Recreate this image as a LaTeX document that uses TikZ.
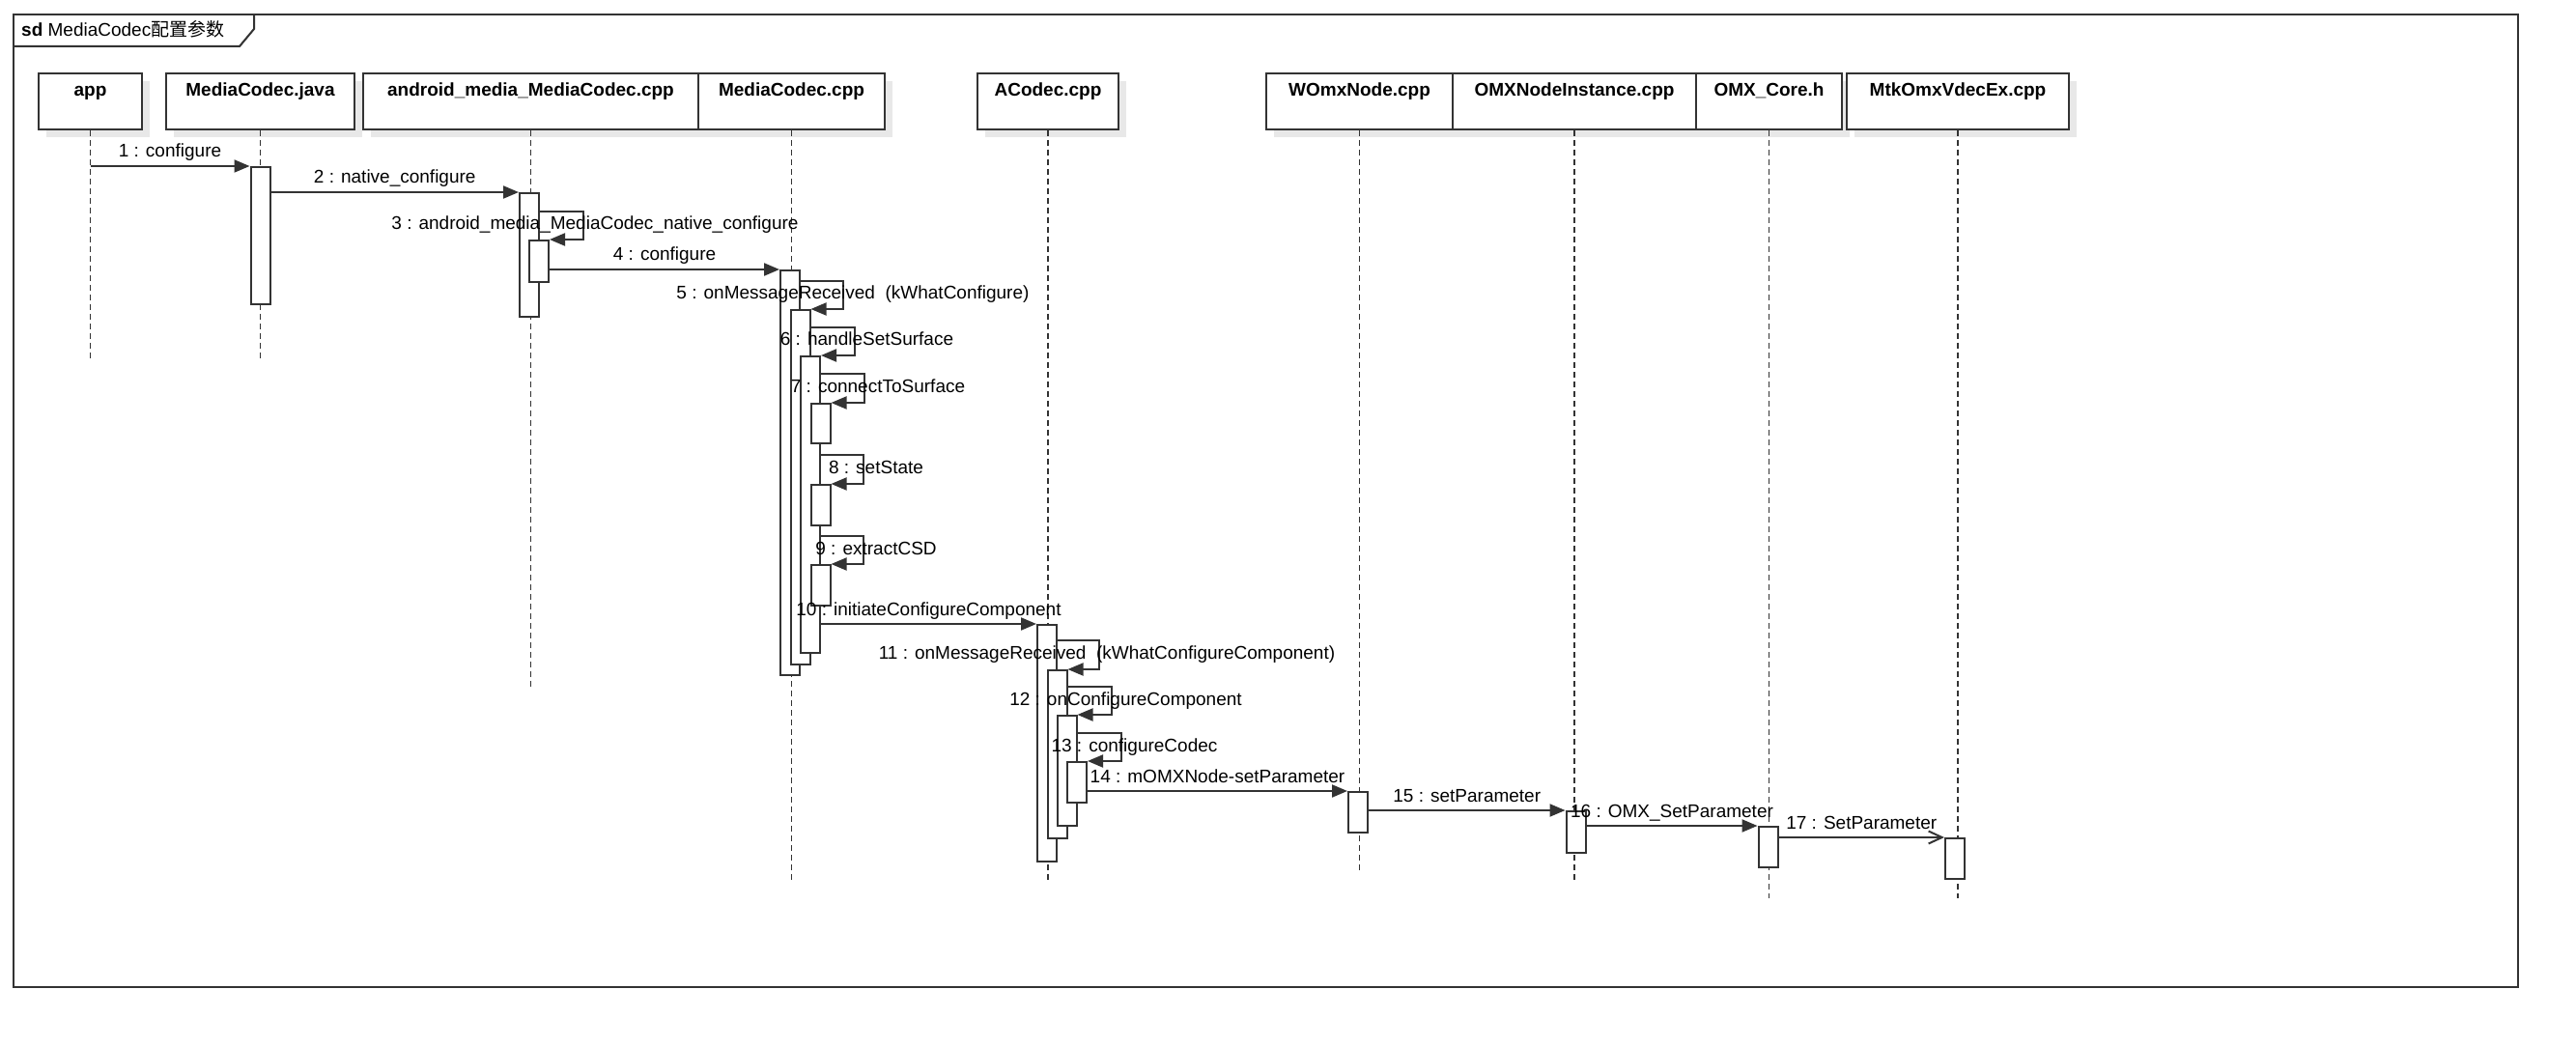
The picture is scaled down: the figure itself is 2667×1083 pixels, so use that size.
\documentclass[tikz,border=0pt]{standalone}
\usepackage{fontspec}
\setmainfont{Liberation Sans}
\newfontfamily\cjk{Noto Sans CJK SC}
\usetikzlibrary{arrows.meta,shadows}
\definecolor{umlline}{HTML}{333333}
\definecolor{shade}{HTML}{E8E8E8}

\begin{document}
\begin{tikzpicture}[
  x=1pt,y=-1pt,
  head/.style={draw=umlline,line width=2pt,fill=white,anchor=north west,inner xsep=0pt,inner ysep=0pt,text height=24pt,text depth=34pt,font=\bfseries\fontsize{19}{22}\selectfont,drop shadow={shadow xshift=8pt,shadow yshift=-8pt,fill=shade,opacity=1}},
  act/.style={draw=umlline,line width=2pt,fill=white,anchor=north,minimum width=20pt,inner sep=0pt},
  life/.style={draw=umlline,line width=1.5pt,dash pattern=on 6pt off 4pt},
  msg/.style={draw=umlline,line width=2pt,-{Triangle[length=16pt,width=13pt]}},
  async/.style={draw=umlline,line width=2pt,-{Straight Barb[length=14pt,width=13pt]}},
  lbl/.style={font=\fontsize{19}{22}\selectfont,anchor=base,inner sep=0pt}
]
\useasboundingbox (0,0) rectangle (2667,1083);
\fill[white] (0,0) rectangle (2667,1083);

\draw[umlline,line width=2pt] (14,15) rectangle (2607,1022);
\node[lbl,anchor=base west] (title) at (22,38) {{\bfseries sd} MediaCodec{\cjk 配置参数}};
\draw[umlline,line width=2pt] (14,48) -- (248,48) -- (263,30) -- (263,15);

\node[head,minimum width=107pt] (app) at (39,75) {app};
\node[head,minimum width=195pt] (java) at (171,75) {MediaCodec.java};
\node[head,minimum width=347pt] (jni) at (375,75) {android\_media\_MediaCodec.cpp};
\node[head,minimum width=193pt] (mc) at (722,75) {MediaCodec.cpp};
\node[head,minimum width=146pt] (acodec) at (1011,75) {ACodec.cpp};
\node[head,minimum width=193pt] (womx) at (1310,75) {WOmxNode.cpp};
\node[head,minimum width=252pt] (omxni) at (1503,75) {OMXNodeInstance.cpp};
\node[head,minimum width=151pt] (omxcore) at (1755,75) {OMX\_Core.h};
\node[head,minimum width=230pt] (mtk) at (1911,75) {MtkOmxVdecEx.cpp};

\draw[life] (app.south) -- (app.south |- 0,373);
\draw[life] (java.south) -- (java.south |- 0,373);
\draw[life] (jni.south) -- (jni.south |- 0,714);
\draw[life] (mc.south) -- (mc.south |- 0,911);
\draw[life] (acodec.south) -- (acodec.south |- 0,912);
\draw[life] (womx.south) -- (womx.south |- 0,903);
\draw[life] (omxni.south) -- (omxni.south |- 0,913);
\draw[life] (omxcore.south) -- (omxcore.south |- 0,930);
\draw[life] (mtk.south) -- (mtk.south |- 0,930);

\node[act,minimum height=142pt] (j1) at (269.5,172) {};
\node[act,minimum height=128pt] (jn1) at (548,199) {};
\node[act,minimum height=43pt] (jn2) at (558,248) {};
\node[act,minimum height=419pt] (m1) at (818,279) {};
\node[act,minimum height=367pt] (m2) at (828.5,320) {};
\node[act,minimum height=307pt] (m3) at (839,368) {};
\node[act,minimum height=41pt] (m4) at (849.5,417) {};
\node[act,minimum height=42pt] (m5) at (849.5,501) {};
\node[act,minimum height=42pt] (m6) at (849.5,584) {};
\node[act,minimum height=245pt] (a1) at (1084,646) {};
\node[act,minimum height=174pt] (a2) at (1094.5,693) {};
\node[act,minimum height=114pt] (a3) at (1104.5,740) {};
\node[act,minimum height=42pt] (a4) at (1115,788) {};
\node[act,minimum height=42pt] (w1) at (1406,819) {};
\node[act,minimum height=43pt] (o1) at (1631.5,839) {};
\node[act,minimum height=42pt] (c1) at (1830.5,855) {};
\node[act,minimum height=42pt] (k1) at (2024,867) {};

\draw[msg] (app.south |- j1.north) -- (j1.north west) node[lbl,midway,yshift=9pt] {1 : configure};
\draw[msg] (j1.east |- jn1.north) -- (jn1.north west) node[lbl,midway,yshift=9pt] {2 : native\_configure};
\draw[msg] (jn1.east |- 0,219) -- ++(45,0) node[lbl,xshift=12pt,yshift=-19pt] {3 : android\_media\_MediaCodec\_native\_configure} |- (jn2.north east);
\draw[msg] (jn2.east |- m1.north) -- (m1.north west) node[lbl,midway,yshift=9pt] {4 : configure};
\draw[msg] (m1.east |- 0,291) -- ++(44,0) node[lbl,xshift=10pt,yshift=-19pt] {5 : onMessageReceived\ \ (kWhatConfigure)} |- (m2.north east);
\draw[msg] (m2.east |- 0,339) -- ++(45,0) node[lbl,xshift=13pt,yshift=-19pt] {6 : handleSetSurface} |- (m3.north east);
\draw[msg] (m3.east |- 0,387) -- ++(45,0) node[lbl,xshift=14pt,yshift=-19pt] {7 : connectToSurface} |- (m4.north east);
\draw[msg] (m3.east |- 0,471) -- ++(44,0) node[lbl,xshift=13pt,yshift=-19pt] {8 : setState} |- (m5.north east);
\draw[msg] (m3.east |- 0,555) -- ++(44,0) node[lbl,xshift=13pt,yshift=-19pt] {9 : extractCSD} |- (m6.north east);
\draw[msg] (m3.east |- a1.north) -- (a1.north west) node[lbl,midway,yshift=9pt] {10 : initiateConfigureComponent};
\draw[msg] (a1.east |- 0,663) -- ++(43,0) node[lbl,xshift=8pt,yshift=-19pt] {11 : onMessageReceived\ \ (kWhatConfigureComponent)} |- (a2.north east);
\draw[msg] (a2.east |- 0,711) -- ++(45,0) node[lbl,xshift=15pt,yshift=-19pt] {12 : onConfigureComponent} |- (a3.north east);
\draw[msg] (a3.east |- 0,759) -- ++(45,0) node[lbl,xshift=14pt,yshift=-19pt] {13 : configureCodec} |- (a4.north east);
\draw[msg] (a4.east |- w1.north) -- (w1.north west) node[lbl,midway,yshift=9pt] {14 : mOMXNode-setParameter};
\draw[msg] (w1.east |- o1.north) -- (o1.north west) node[lbl,midway,yshift=9pt] {15 : setParameter};
\draw[msg] (o1.east |- c1.north) -- (c1.north west) node[lbl,midway,yshift=9pt] {16 : OMX\_SetParameter};
\draw[async] (c1.east |- k1.north) -- (k1.north west) node[lbl,midway,yshift=9pt] {17 : SetParameter};
\end{tikzpicture}
\end{document}
